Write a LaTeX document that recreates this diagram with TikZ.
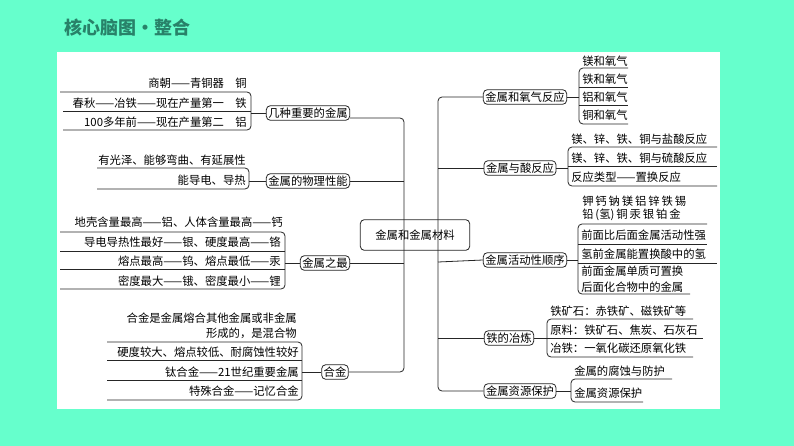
\documentclass[tikz,border=0pt]{standalone}
\usepackage{fontspec}
\setmainfont{Noto Sans CJK SC}
\begin{document}
\begin{tikzpicture}[x=0.75pt,y=-0.75pt,
  ln/.style={draw=black!85,line width=0.6pt},
  bx/.style={draw=black!85,line width=0.6pt,rounded corners=3pt,inner sep=1.5pt,font=\fontsize{8.5}{10}\selectfont},
  tl/.style={inner sep=0pt,anchor=west,font=\fontsize{8.5}{10}\selectfont,align=left},
  tr/.style={inner sep=0pt,anchor=east,font=\fontsize{8.5}{10}\selectfont,align=right},
  rc/.style={ln,rounded corners=3pt}]
\fill[fill={rgb,255:red,102;green,255;blue,204}] (0,0) rectangle (794,446);
\fill[white] (57,52) rectangle (720,409);
\useasboundingbox (0,0) rectangle (794,446);
\node[anchor=west,inner sep=0pt,text={rgb,255:red,40;green,130;blue,105},font=\fontsize{13.5}{15}\bfseries\selectfont] (title) at (64,28) {核心脑图·整合};
% centre
\node[bx,minimum width=82pt,minimum height=23pt] (c) at (415,235) {金属和金属材料};
% trunks
\coordinate (lt) at (404,118); \coordinate (lb) at (404,372);
\coordinate (rt) at (438,97); \coordinate (rb) at (438,391);
% left boxes
\node[bx] (b1) at (308,113) {几种重要的金属};
\node[bx] (b2) at (308,181) {金属的物理性能};
\node[bx] (b3) at (325,263) {金属之最};
\node[bx] (b4) at (335,372) {合金};
\draw[rc] (b1.east|-lt) -- (lt) -- (lb) -- (b4.east|-lb);
\draw[ln] (b2.east) -- (404,181);
\draw[ln] (b3.east) -- (404,263);
% right boxes
\node[bx] (r1) at (525,97) {金属和氧气反应};
\node[bx] (r2) at (520,168) {金属与酸反应};
\node[bx] (r3) at (525,260) {金属活动性顺序};
\node[bx] (r4) at (509,338) {铁的冶炼};
\node[bx] (r5) at (520,391) {金属资源保护};
\draw[rc] (r1.west) -- (rt) -- (rb) -- (r5.west);
\draw[ln] (438,168) -- (r2.west);
\draw[ln] (438,262) -- (r3.west);
\draw[ln] (438,338) -- (r4.west);
% ---- left groups
% b1
\node[tr] (a1) at (247,83) {商朝——青铜器\quad 铜};
\node[tr] (a2) at (247,103) {春秋——冶铁——现在产量第一\quad 铁};
\node[tr] (a3) at (247,122) {100多年前——现在产量第二\quad 铝};
\draw[rc] (60,92) -- (251,92) -- (251,130) -- (63,130);
\draw[ln] (63,111) -- (251,111);
\draw[ln] (251,113) -- (b1.west);
% b2
\node[tr] (p1) at (246,160) {有光泽、能够弯曲、有延展性};
\node[tr] (p2) at (246,180) {能导电、导热};
\draw[rc] (97,168) -- (249,168) -- (249,189) -- (97,189);
\draw[ln] (249,181) -- (b2.west);
% b3
\node[tr] (m1) at (283,222) {地壳含量最高——铝、人体含量最高——钙};
\node[tr] (m2) at (281,242) {导电导热性最好——银、硬度最高——铬};
\node[tr] (m3) at (281,261) {熔点最高——钨、熔点最低——汞};
\node[tr] (m4) at (281,281) {密度最大——锇、密度最小——锂};
\draw[rc] (60,232) -- (285,232) -- (285,289) -- (60,289);
\draw[ln] (60,251) -- (285,251);
\draw[ln] (60,269) -- (285,269);
\draw[ln] (285,263) -- (b3.west);
% b4
\node[tr] (g1) at (297,318) {合金是金属熔合其他金属或非金属};
\node[tr] (g1b) at (297,333) {形成的，是混合物};
\node[tr] (g2) at (299,352) {硬度较大、熔点较低、耐腐蚀性较好};
\node[tr] (g3) at (299,372) {钛合金——21世纪重要金属};
\node[tr] (g4) at (299,391) {特殊合金——记忆合金};
\draw[rc] (107,342) -- (302,342) -- (302,400) -- (107,400);
\draw[ln] (107,360) -- (302,360);
\draw[ln] (107,380) -- (302,380);
\draw[ln] (302,372) -- (b4.west);
% ---- right groups
% r1
\node[tl] (o1) at (582,61) {镁和氧气};
\node[tl] (o2) at (582,79) {铁和氧气};
\node[tl] (o3) at (582,97) {铝和氧气};
\node[tl] (o4) at (582,115) {铜和氧气};
\draw[rc] (628,68) -- (579,68) -- (579,124) -- (628,124);
\draw[ln] (579,87) -- (628,87);
\draw[ln] (579,105) -- (628,105);
\draw[ln] (r1.east) -- (579,97);
% r2
\node[tl] (s1) at (571,139) {镁、锌、铁、铜与盐酸反应};
\node[tl] (s2) at (571,158) {镁、锌、铁、铜与硫酸反应};
\node[tl] (s3) at (571,177) {反应类型——置换反应};
\draw[rc] (717,147) -- (568,147) -- (568,186) -- (717,186);
\draw[ln] (568,166) -- (717,166);
\draw[ln] (r2.east) -- (568,168);
% r3
\node[tl] (h0) at (582,201) {钾\,钙\,钠\,镁\,铝\,锌\,铁\,锡};
\node[tl] (h0b) at (582,215) {铅\,(氢)\,铜\,汞\,银\,铂\,金};
\node[tl] (h1) at (581,235) {前面比后面金属活动性强};
\node[tl] (h2) at (581,254) {氢前金属能置换酸中的氢};
\node[tl] (h3) at (581,271) {前面金属单质可置换};
\node[tl] (h3b) at (581,287) {后面化合物中的金属};
\draw[rc] (707,224) -- (578,224) -- (578,294) -- (690,294);
\draw[ln] (578,244) -- (707,244);
\draw[ln] (578,263) -- (717,263);
\draw[ln] (r3.east) -- (578,260);
% r4
\node[tl] (f1) at (550,311) {铁矿石：赤铁矿、磁铁矿等};
\node[tl] (f2) at (550,330) {原料：铁矿石、焦炭、石灰石};
\node[tl] (f3) at (550,348) {冶铁：一氧化碳还原氧化铁};
\draw[rc] (693,319) -- (547,319) -- (547,357) -- (693,357);
\draw[ln] (547,338) -- (703,338);
\draw[ln] (r4.east) -- (547,338);
% r5
\node[tl] (k1) at (574,371) {金属的腐蚀与防护};
\node[tl] (k2) at (574,393) {金属资源保护};
\draw[rc] (672,379) -- (571,379) -- (571,402) -- (643,402);
\draw[ln] (r5.east) -- (571,391);
\end{tikzpicture}
\end{document}
